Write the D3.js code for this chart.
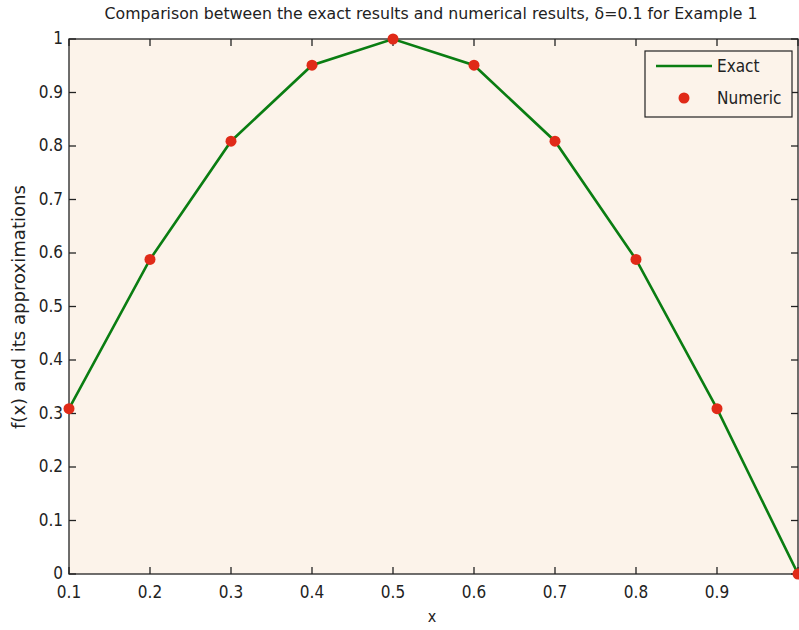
<!DOCTYPE html>
<html><head><meta charset="utf-8">
<script src="https://cdn.jsdelivr.net/npm/d3@7"></script>
<style>body{margin:0;background:#fff}svg{display:block}</style>
</head><body>
<script>
const xs = [0.1,0.2,0.3,0.4,0.5,0.6,0.7,0.8,0.9,1.0];
const exact = [0.309,0.588,0.809,0.951,1.0,0.951,0.809,0.588,0.309,0.0];
const numeric = [0.309,0.588,0.809,0.951,1.0,0.951,0.809,0.588,0.309,0.0];
const xTicks = [0.1,0.2,0.3,0.4,0.5,0.6,0.7,0.8,0.9,1.0];
const xTickLabels = ["0.1","0.2","0.3","0.4","0.5","0.6","0.7","0.8","0.9"];
const yTicks = [0,0.1,0.2,0.3,0.4,0.5,0.6,0.7,0.8,0.9,1];
const yTickLabels = ["0","0.1","0.2","0.3","0.4","0.5","0.6","0.7","0.8","0.9","1"];
const titleText = "Comparison between the exact results and numerical results, \u03B4=0.1 for Example 1";

const W=799,H=630;
const L=69,R=798,T=39,B=574;
const font='"Liberation Sans Narrow","DejaVu Sans Condensed","Liberation Sans",Arial,sans-serif';
const svg=d3.select("body").append("svg").attr("width",W).attr("height",H);
const x=d3.scaleLinear().domain([0.1,1]).range([L,R]);
const y=d3.scaleLinear().domain([0,1]).range([B,T]);

svg.append("rect").attr("x",L).attr("y",T).attr("width",R-L).attr("height",B-T).attr("fill","#fcf3ea");

// ticks (inside) on all four sides
const tk=7;
const g=svg.append("g").attr("stroke","#222").attr("stroke-width",1.3);
xTicks.forEach(v=>{
  g.append("line").attr("x1",x(v)).attr("x2",x(v)).attr("y1",B).attr("y2",B-tk);
  g.append("line").attr("x1",x(v)).attr("x2",x(v)).attr("y1",T).attr("y2",T+tk);
});
yTicks.forEach(v=>{
  g.append("line").attr("x1",L).attr("x2",L+tk).attr("y1",y(v)).attr("y2",y(v));
  g.append("line").attr("x1",R).attr("x2",R-tk).attr("y1",y(v)).attr("y2",y(v));
});
svg.append("rect").attr("x",L).attr("y",T).attr("width",R-L).attr("height",B-T)
  .attr("fill","none").attr("stroke","#222").attr("stroke-width",1.3);

// tick labels
svg.append("g").selectAll("text").data(xTickLabels).join("text")
  .attr("x",(d,i)=>x(xTicks[i])).attr("y",B+24).attr("text-anchor","middle")
  .attr("font-family",font).attr("font-size",17).attr("fill","#222")
  .text(d=>d);
svg.append("g").selectAll("text").data(yTicks).join("text")
  .attr("x",L-6).attr("y",d=>y(d)+5).attr("text-anchor","end")
  .attr("font-family",font).attr("font-size",17).attr("fill","#222")
  .text((d,i)=>yTickLabels[i]);

// labels
svg.append("text").attr("x",432).attr("y",622).attr("text-anchor","middle")
  .attr("font-family",font).attr("font-size",16).attr("fill","#222").text("x");
svg.append("text").attr("transform","translate(25,307) rotate(-90)").attr("text-anchor","middle")
  .attr("font-family",font).attr("font-size",17).attr("fill","#222")
  .attr("textLength",244).attr("lengthAdjust","spacingAndGlyphs").text("f(x) and its approximations");
svg.append("text").attr("x",431).attr("y",19).attr("text-anchor","middle")
  .attr("font-family",font).attr("font-size",15).attr("fill","#222")
  .attr("textLength",653).attr("lengthAdjust","spacingAndGlyphs").text(titleText);

// line
const line=d3.line().x((d,i)=>x(xs[i])).y(d=>y(d));
svg.append("path").datum(exact).attr("d",line).attr("fill","none")
  .attr("stroke","#0a7d12").attr("stroke-width",2.6);
svg.append("g").selectAll("circle").data(numeric).join("circle")
  .attr("cx",(d,i)=>x(xs[i])).attr("cy",d=>y(d)).attr("r",5.5).attr("fill","#e02a18");

// legend
const lg=svg.append("g");
lg.append("rect").attr("x",645).attr("y",51).attr("width",147).attr("height",66)
  .attr("fill","#fcf3ea").attr("stroke","#222").attr("stroke-width",1.2);
lg.append("line").attr("x1",656).attr("x2",712).attr("y1",66).attr("y2",66)
  .attr("stroke","#0a7d12").attr("stroke-width",2.6);
lg.append("circle").attr("cx",684).attr("cy",98).attr("r",5.5).attr("fill","#e02a18");
lg.append("text").attr("x",717).attr("y",72).attr("font-family",font).attr("font-size",17).attr("fill","#222").text("Exact");
lg.append("text").attr("x",717).attr("y",104).attr("font-family",font).attr("font-size",17).attr("fill","#222").text("Numeric");
</script>
</body></html>
